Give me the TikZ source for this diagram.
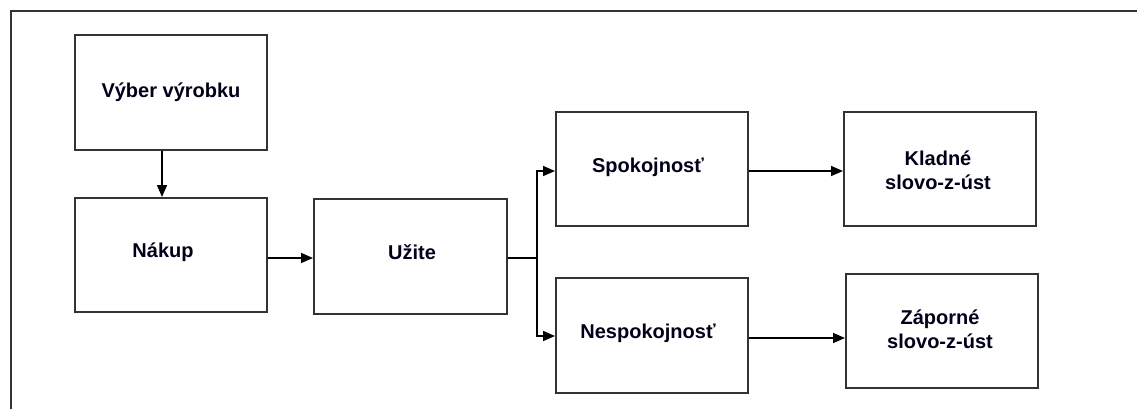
\documentclass[tikz,border=0pt]{standalone}
\usepackage{fontspec}
\setmainfont{Liberation Sans}
\usetikzlibrary{arrows.meta}
\begin{document}
\begin{tikzpicture}[x=1pt,y=-1pt,
  box/.style={draw=black!80, line width=2pt, minimum width=192pt, minimum height=115pt, inner sep=0pt},
  lbl/.style={font=\fontsize{20}{24}\selectfont\bfseries, align=center, text=black!90!blue, inner sep=0pt},
  conn/.style={draw=black, line width=1.6pt},
  arr/.style={conn, -{Triangle[length=12pt,width=10pt]}}]
\useasboundingbox (0,0) rectangle (1137,409);
\fill[white] (0,0) rectangle (1137,409);
% frame
\draw[black!80, line width=2pt] (11,409) -- (11,11) -- (1137,11);
% boxes
\node[box] (vyber) at (171,92.5) {};
\node[box, minimum height=114pt] (nakup) at (171,255) {};
\node[box, minimum width=193pt] (uzite) at (410.5,256.5) {};
\node[box, minimum height=114pt] (spok) at (652,169) {};
\node[box] (nesp) at (652,335.5) {};
\node[box, minimum height=114pt] (klad) at (940,169) {};
\node[box, minimum height=114pt] (zap) at (942,331) {};
% labels
\node[lbl] (tvyber) at (171,92) {Výber výrobku};
\node[lbl] (tnakup) at (163,252) {Nákup};
\node[lbl] (tuzite) at (412,252) {Užite};
\node[lbl] (tspok) at (648,167) {Spokojnosť};
\node[lbl] (tnesp) at (648,333) {Nespokojnosť};
\node[lbl] (tklad) at (938,170) {Kladné\\slovo-z-úst};
\node[lbl] (tzap) at (940,329) {Záporné\\slovo-z-úst};
% helper coordinates
\coordinate (xv) at (162,0);
\coordinate (ya) at (0,258);
\coordinate (br) at (537,258);
\coordinate (ys) at (0,171);
\coordinate (yn) at (0,336);
\coordinate (yz) at (0,338);
% connectors
\draw[arr] (vyber.south -| xv) -- (nakup.north -| xv);
\draw[arr] (nakup.east |- ya) -- (uzite.west |- ya);
\draw[conn] (uzite.east |- ya) -- (br);
\draw[arr] (br) |- (spok.west |- ys);
\draw[arr] (br) |- (nesp.west |- yn);
\draw[arr] (spok.east |- ys) -- (klad.west |- ys);
\draw[arr] (nesp.east |- yz) -- (zap.west |- yz);
\end{tikzpicture}
\end{document}
